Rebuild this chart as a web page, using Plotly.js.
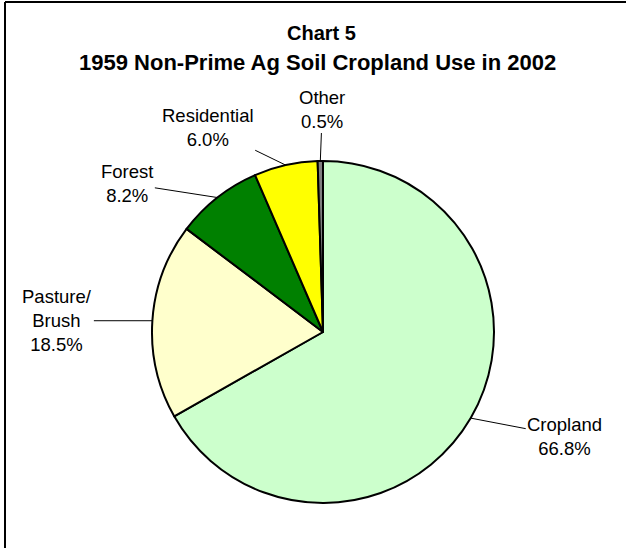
<!DOCTYPE html>
<html>
<head>
<meta charset="utf-8">
<script src="https://cdn.plot.ly/plotly-3.0.1.min.js"></script>
<style>
  html, body { margin: 0; padding: 0; background: #fff; }
  #chart { width: 626px; height: 548px; }
</style>
</head>
<body>
<div id="chart"></div>
<script>
// slice data, clockwise from 12 o'clock
const labels = ["Cropland", "Pasture/<br>Brush", "Forest", "Residential", "Other"];
const values = [66.8, 18.5, 8.2, 6.0, 0.5];
const colors = ["#ccffcc", "#ffffcc", "#008000", "#ffff00", "#808080"];

const titleLines = ["Chart 5", "1959 Non-Prime Ag Soil Cropland Use in 2002"];

// label text offsets (px) from the slice edge
const offX = [94, -95, -90, -78, 2];
const offY = [18, 0, -14, -38, -52];

const W = 626, H = 548;
const cx = 323, cy = 332, R = 171;
const font = "Liberation Sans, Arial, sans-serif";

// leader lines start at the middle of each slice's arc
const total = values.reduce((a, b) => a + b, 0);
let cum = 0;
const annotations = values.map((v, i) => {
    const mid = (cum + v / 2) / total;
    cum += v;
    const ang = Math.PI / 2 - mid * 2 * Math.PI;
    const px = cx + R * Math.cos(ang);
    const py = cy - R * Math.sin(ang);
    return {
        xref: "paper", yref: "paper",
        x: px / W, y: 1 - py / H,
        ax: offX[i], ay: offY[i],
        text: labels[i] + "<br>" + v.toFixed(1) + "%",
        showarrow: true, arrowhead: 0, arrowwidth: 1, arrowcolor: "#000",
        standoff: 0, startstandoff: 0,
        font: { family: font, size: 18.5, color: "#000" }
    };
});

// two title lines
annotations.push(
    { xref: "paper", yref: "paper", x: 321 / W, y: 1 - 33 / H, xanchor: "center", yanchor: "middle",
      showarrow: false, text: "<b>" + titleLines[0] + "</b>", font: { family: font, size: 20, color: "#000" } },
    { xref: "paper", yref: "paper", x: 317 / W, y: 1 - 62 / H, xanchor: "center", yanchor: "middle",
      showarrow: false, text: "<b>" + titleLines[1] + "</b>", font: { family: font, size: 22, color: "#000" } }
);

const data = [{
    type: "pie",
    labels: labels,
    values: values,
    sort: false,
    direction: "clockwise",
    rotation: 0,
    textinfo: "none",
    hoverinfo: "none",
    marker: { colors: colors, line: { color: "#000", width: 2 } },
    domain: {
        x: [(cx - R) / W, (cx + R) / W],
        y: [(H - cy - R) / H, (H - cy + R) / H]
    }
}];

const layout = {
    width: W,
    height: H,
    margin: { l: 0, r: 0, t: 0, b: 0 },
    showlegend: false,
    paper_bgcolor: "#fff",
    annotations: annotations,
    shapes: [
        { type: "line", xref: "paper", yref: "paper", x0: 5 / W, x1: 1, y0: 1 - 2 / H, y1: 1 - 2 / H, line: { color: "#000", width: 2 } },
        { type: "line", xref: "paper", yref: "paper", x0: 5 / W, x1: 5 / W, y0: 0, y1: 1 - 2 / H, line: { color: "#000", width: 2 } }
    ]
};

Plotly.newPlot("chart", data, layout, { staticPlot: true });
</script>
</body>
</html>
